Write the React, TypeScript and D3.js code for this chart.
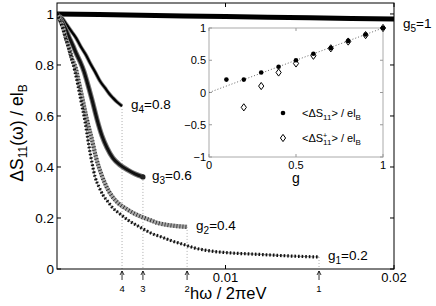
import * as d3 from 'd3';

// curves: [hω/2πeV, ΔS11/elB]
const g1Curve: [number, number][] = [
  [0, 1], [0.00018, 0.973], [0.00036, 0.941], [0.00053, 0.902], [0.00071, 0.863],
  [0.00089, 0.82], [0.00107, 0.773], [0.00125, 0.718], [0.00148, 0.64], [0.00166, 0.58],
  [0.00178, 0.53], [0.0019, 0.48], [0.00208, 0.415], [0.00226, 0.361], [0.00249, 0.322],
  [0.00273, 0.29], [0.00303, 0.263], [0.00332, 0.239], [0.00374, 0.216], [0.00421, 0.192],
  [0.00469, 0.173], [0.00522, 0.153], [0.0057, 0.137], [0.00623, 0.125], [0.00682, 0.11],
  [0.00742, 0.098], [0.00819, 0.082], [0.00908, 0.071], [0.01027, 0.063], [0.01145, 0.059],
  [0.01264, 0.055], [0.01383, 0.051], [0.01555, 0.047],
];
const g2Curve: [number, number][] = [
  [0, 1], [0.00018, 0.976], [0.00036, 0.945], [0.00053, 0.906], [0.00071, 0.867],
  [0.00089, 0.824], [0.00107, 0.796], [0.00131, 0.729], [0.00154, 0.659], [0.00178, 0.584],
  [0.00208, 0.506], [0.00231, 0.439], [0.00267, 0.365], [0.00297, 0.318], [0.00326, 0.286],
  [0.00362, 0.259], [0.00404, 0.239], [0.00451, 0.22], [0.00504, 0.204], [0.00552, 0.192],
  [0.00599, 0.18], [0.00653, 0.173], [0.007, 0.169], [0.00772, 0.165],
];
const g3Curve: [number, number][] = [
  [0, 1], [0.00024, 0.976], [0.00048, 0.945], [0.00071, 0.91], [0.00095, 0.875],
  [0.00113, 0.847], [0.00136, 0.815], [0.0016, 0.775], [0.00178, 0.735], [0.00208, 0.663],
  [0.00237, 0.588], [0.00267, 0.522], [0.00297, 0.475], [0.00332, 0.435], [0.00374, 0.408],
  [0.00421, 0.388], [0.00463, 0.373], [0.0051, 0.361],
];
const g4Curve: [number, number][] = [
  [0, 1], [0.0003, 0.984], [0.00059, 0.957], [0.00089, 0.929], [0.00113, 0.906],
  [0.00142, 0.871], [0.00172, 0.839], [0.00196, 0.808], [0.00226, 0.773], [0.00255, 0.737],
  [0.00285, 0.71], [0.00309, 0.688], [0.00332, 0.671], [0.00356, 0.655], [0.00386, 0.639],
];
const g5Curve: [number, number][] = [
  [0, 1], [0.005, 0.995], [0.01, 0.99], [0.015, 0.985], [0.02, 0.98],
];

const yTicks = [0, 0.2, 0.4, 0.6, 0.8, 1];
const xTicks = [0.01, 0.02];
const curveNames = ['1', '2', '3', '4'];
const curveValues = ['0.2', '0.4', '0.6', '0.8'];

// inset
const insetG = [0.1, 0.2, 0.3, 0.4, 0.5, 0.6, 0.7, 0.8, 0.9, 1];
const meanS = [0.2, 0.2, 0.31, 0.4, 0.5, 0.6, 0.69, 0.8, 0.9, 1];
const plusG = [0.2, 0.3, 0.4, 0.5, 0.6, 0.7, 0.8, 0.9, 1];
const meanSPlus = [-0.23, 0.1, 0.31, 0.45, 0.57, 0.685, 0.79, 0.89, 1];
const insetYTicks = [-1, -0.5, 0, 0.5, 1];
const insetXTicks = [0, 0.5, 1];

const font = '"Liberation Sans", Arial, sans-serif';

export default function App() {
  const width = 436;
  const height = 306;

  const x = d3.scaleLinear().domain([0, 0.02]).range([57, 394]);
  const y = d3.scaleLinear().domain([0, 1.043]).range([269, 3]);

  const line = d3
    .line<[number, number]>()
    .x((d) => x(d[0]))
    .y((d) => y(d[1]))
    .curve(d3.curveMonotoneX);

  const ix = d3.scaleLinear().domain([0, 1]).range([209, 383]);
  const iy = d3.scaleLinear().domain([-1, 1]).range([157, 28]);

  const curves = [g1Curve, g2Curve, g3Curve, g4Curve];
  const ends = curves.map((c) => c[c.length - 1]);

  const diamond = (cx: number, cy: number) =>
    `M${cx},${cy - 3.6}L${cx + 2.6},${cy}L${cx},${cy + 3.6}L${cx - 2.6},${cy}Z`;

  return (
    <svg
      width={width}
      height={height}
      style={{ position: 'absolute', left: 0, top: 0, background: '#fff' }}
      fontFamily={font}
    >
      <defs>
        <clipPath id="plotClip">
          <rect x={57} y={3} width={337} height={266} />
        </clipPath>
      </defs>

      {/* dotted drop lines */}
      {ends.map((e, i) => (
        <line
          key={'drop' + i}
          x1={x(e[0])}
          x2={x(e[0])}
          y1={y(e[1])}
          y2={269}
          stroke="#999"
          strokeWidth={0.8}
          strokeDasharray="1 2"
        />
      ))}

      <g clipPath="url(#plotClip)" fill="none">
        <path d={line(g5Curve) ?? ''} stroke="#000" strokeWidth={5} />
        <path d={line(g4Curve) ?? ''} stroke="#888" strokeWidth={3.8} />
        <path d={line(g4Curve) ?? ''} stroke="#000" strokeWidth={2.2} />
        <path d={line(g3Curve) ?? ''} stroke="#777" strokeWidth={5} />
        <path d={line(g3Curve) ?? ''} stroke="#111" strokeWidth={3} />
        <path d={line(g2Curve) ?? ''} stroke="#a8a8a8" strokeWidth={4.2} />
        <path d={line(g2Curve) ?? ''} stroke="#222" strokeWidth={4.2} strokeDasharray="0.8 2.2" />
        <path d={line(g1Curve) ?? ''} stroke="#999" strokeWidth={1.2} />
        <path d={line(g1Curve) ?? ''} stroke="#111" strokeWidth={3.2} strokeDasharray="1.6 2" />
      </g>
      <circle cx={x(g3Curve[g3Curve.length - 1][0])} cy={y(g3Curve[g3Curve.length - 1][1])} r={2.6} fill="#222" />

      {/* frame */}
      <rect x={57} y={3} width={337} height={266} fill="none" stroke="#000" strokeWidth={1} />
      {yTicks.map((t) => (
        <g key={'yt' + t}>
          <line x1={57} x2={61} y1={y(t)} y2={y(t)} stroke="#000" />
          <line x1={390} x2={394} y1={y(t)} y2={y(t)} stroke="#000" />
          <text x={54} y={y(t) + 5} textAnchor="end" fontSize={13.5}>
            {t}
          </text>
        </g>
      ))}
      {xTicks.map((t) => (
        <g key={'xt' + t}>
          <line x1={x(t)} x2={x(t)} y1={269} y2={265} stroke="#000" />
          <line x1={x(t)} x2={x(t)} y1={3} y2={7} stroke="#000" />
          <text x={x(t)} y={282} textAnchor="middle" fontSize={13}>
            {t}
          </text>
        </g>
      ))}

      {/* arrows */}
      {ends.map((e, i) => {
        const ax = x(e[0]);
        return (
          <g key={'arr' + i} stroke="#000" strokeWidth={0.8} fill="none">
            <line x1={ax} x2={ax} y1={271} y2={280} />
            <polyline points={`${ax - 2},${275} ${ax},${271} ${ax + 2},${275}`} />
            <text x={ax} y={292} textAnchor="middle" fontSize={9.5} stroke="none" fill="#000">
              {curveNames[i]}
            </text>
          </g>
        );
      })}

      {/* curve labels */}
      {ends.map((e, i) => (
        <text key={'lab' + i} x={x(e[0]) + 9} y={y(e[1]) + 3} fontSize={13.5}>
          g
          <tspan dy={4} fontSize={10}>
            {curveNames[i]}
          </tspan>
          <tspan dy={-4}>={curveValues[i]}</tspan>
        </text>
      ))}
      <text x={403} y={28} fontSize={13.5}>
        g
        <tspan dy={4} fontSize={10}>
          5
        </tspan>
        <tspan dy={-4}>=1</tspan>
      </text>

      {/* axis labels */}
      <text transform="translate(23,133) rotate(-90)" textAnchor="middle" fontSize={17.5}>
        ΔS
        <tspan dy={4} fontSize={12}>
          11
        </tspan>
        <tspan dy={-4}>(ω) / el</tspan>
        <tspan dy={4} fontSize={12}>
          B
        </tspan>
      </text>
      <text x={190} y={299} fontSize={16.5}>
        hω / 2πeV
      </text>

      {/* inset */}
      <rect x={209} y={28} width={174} height={129} fill="#fff" stroke="#aaa" strokeWidth={1} />
      {insetXTicks.map((t) => (
        <g key={'ixt' + t}>
          <line x1={ix(t)} x2={ix(t)} y1={157} y2={154} stroke="#999" />
          <line x1={ix(t)} x2={ix(t)} y1={28} y2={31} stroke="#999" />
          <text x={ix(t)} y={169} textAnchor="middle" fontSize={11}>
            {t}
          </text>
        </g>
      ))}
      {insetYTicks.map((t) => (
        <g key={'iyt' + t}>
          <line x1={209} x2={212} y1={iy(t)} y2={iy(t)} stroke="#999" />
          <line x1={380} x2={383} y1={iy(t)} y2={iy(t)} stroke="#999" />
          <text x={206} y={iy(t) + 4} textAnchor="end" fontSize={11}>
            {t < 0 ? '\u2212' + Math.abs(t) : t}
          </text>
        </g>
      ))}
      <text x={ix(0.5)} y={183} textAnchor="middle" fontSize={14}>
        g
      </text>
      <line
        x1={ix(0)}
        y1={iy(0)}
        x2={ix(1)}
        y2={iy(1)}
        stroke="#555"
        strokeWidth={0.9}
        strokeDasharray="1 2"
      />
      {plusG.map((g, i) => (
        <path key={'dm' + i} d={diamond(ix(g), iy(meanSPlus[i]))} fill="#fff" stroke="#000" strokeWidth={1} />
      ))}
      {insetG.map((g, i) => (
        <circle key={'dt' + i} cx={ix(g)} cy={iy(meanS[i])} r={2.3} fill="#000" />
      ))}

      {/* inset legend */}
      <circle cx={283} cy={113} r={2.3} fill="#000" />
      <text x={302} y={117} fontSize={11}>
        {'<ΔS'}
        <tspan dy={3} fontSize={8}>
          11
        </tspan>
        <tspan dy={-3}>{'> / el'}</tspan>
        <tspan dy={3} fontSize={8}>
          B
        </tspan>
      </text>
      <path d={diamond(283, 138)} fill="#fff" stroke="#000" strokeWidth={1} />
      <text x={302} y={142} fontSize={11}>
        {'<ΔS'}
        <tspan dy={-4} fontSize={7}>
          +
        </tspan>
        <tspan dx={-4.1} dy={7} fontSize={8}>
          11
        </tspan>
        <tspan dy={-3}>{'> / el'}</tspan>
        <tspan dy={3} fontSize={8}>
          B
        </tspan>
      </text>
    </svg>
  );
}
